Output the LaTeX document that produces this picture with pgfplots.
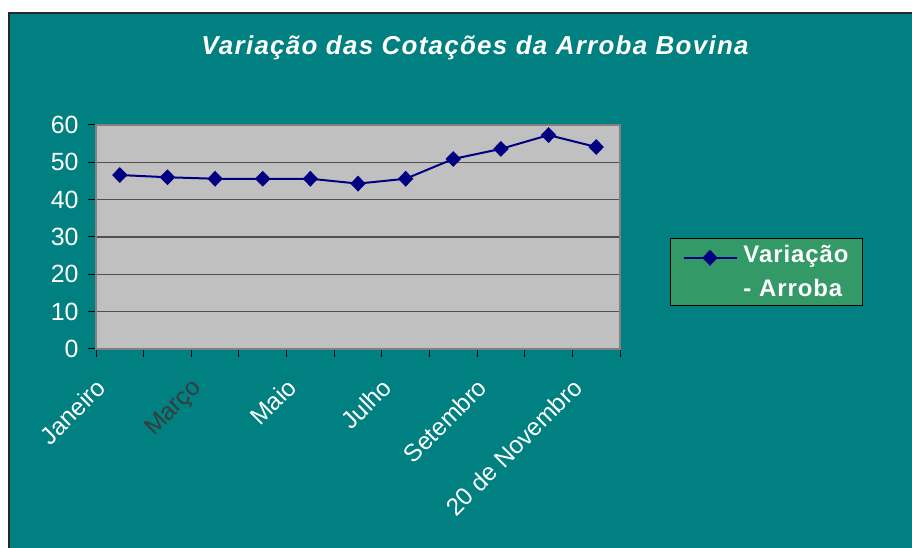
\documentclass[border=0pt]{standalone}
\usepackage{pgfplots}
\pgfplotsset{compat=1.18}
\usepackage{fontspec}
\setmainfont{Liberation Sans}
\definecolor{bgteal}{RGB}{0,128,128}
\definecolor{framedark}{RGB}{40,40,40}
\definecolor{plotgray}{RGB}{192,192,192}
\definecolor{bordergray}{RGB}{128,128,128}
\definecolor{gridgray}{RGB}{80,80,80}
\definecolor{legendgreen}{RGB}{51,153,102}
\definecolor{navyline}{RGB}{0,0,128}
\definecolor{marcogray}{RGB}{55,60,60}
\begin{document}
\begin{tikzpicture}[x=1bp,y=1bp]
\path[fill=white,use as bounding box] (0,0) rectangle (912,548);
\fill[bgteal] (9,0) rectangle (912,535);
\draw[line width=2bp, framedark] (9,0) -- (9,535) -- (912,535);
\node[white, anchor=base, inner sep=0pt, font=\fontsize{26}{30}\selectfont\bfseries\itshape\addfontfeature{LetterSpace=5}] at (475,493) {Variação das Cotações da Arroba Bovina};
\begin{axis}[
  at={(96bp,199bp)}, anchor=south west, scale only axis,
  width=524bp, height=224bp,
  xmin=0.5, xmax=11.5, ymin=0, ymax=60,
  ytick={0,10,...,60},
  xtick={0.5,1.5,...,11.5}, xticklabels={},
  extra x ticks={1,3,5,7,9,11},
  extra x tick labels={Janeiro,\textcolor{marcogray}{Março},Maio,Julho,Setembro,20 de Novembro},
  extra x tick style={major tick length=0pt, grid=none,
    tick label style={xshift=-25bp, yshift=-23bp, rotate=45, anchor=north east, font=\fontsize{24.5}{28}\selectfont}},
  axis background/.style={fill=plotgray},
  axis line style={draw=bordergray, line width=1.5bp},
  ymajorgrids, grid style={gridgray, line width=1.5bp},
  tick align=outside, tick pos=left, major tick length=8bp,
  tick style={black, line width=1bp},
  tick label style={text=white, font=\fontsize{25}{28}\selectfont},
  yticklabel style={xshift=-6bp},
  /pgf/number format/assume math mode=true,
  legend style={at={(1.0954,0.4955)}, anchor=north west, fill=legendgreen, draw=black, line width=1bp,
    text=white, font=\fontsize{24}{34}\selectfont\bfseries\addfontfeature{LetterSpace=4},
    cells={anchor=west, align=left}, inner xsep=12bp, inner ysep=5bp},
  legend image code/.code={\draw[yshift=14bp, mark repeat=2, mark phase=2, #1] plot coordinates {(0bp,0bp) (26.5bp,0bp) (53bp,0bp)}; \path (0bp,0bp) (57bp,0bp);},
]
\addplot[navyline, line width=2bp, mark=diamond*, mark size=6.5bp, mark options={fill=navyline, xscale=1.3}]
  coordinates {(1,46.6) (2,46.0) (3,45.6) (4,45.6) (5,45.6) (6,44.3) (7,45.6) (8,50.9) (9,53.6) (10,57.3) (11,54.1)};
\addlegendentry{Variação\\- Arroba}
\end{axis}
\end{tikzpicture}
\end{document}
